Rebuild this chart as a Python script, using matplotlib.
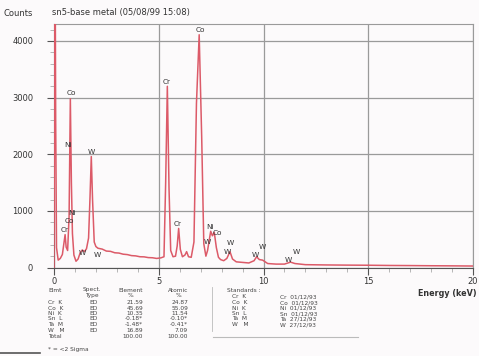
import numpy as np
import matplotlib
matplotlib.use("Agg")
import matplotlib.pyplot as plt
from matplotlib.ticker import MultipleLocator

# EDS spectrum, read point by point (energy in keV, counts)
energy_kev = [0.00, 0.02, 0.05, 0.08, 0.12, 0.20, 0.30, 0.40, 0.47, 0.53, 0.58,
              0.65, 0.72, 0.78, 0.83, 0.88, 0.95, 1.05, 1.15, 1.25, 1.35, 1.45,
              1.55, 1.65, 1.72, 1.78, 1.84, 1.92, 2.00, 2.10, 2.30, 2.50, 2.70,
              2.90, 3.10, 3.30, 3.50, 3.70, 3.90, 4.10, 4.30, 4.50, 4.70, 4.90,
              5.10, 5.25, 5.33, 5.41, 5.49, 5.57, 5.68, 5.80, 5.88, 5.95, 6.03,
              6.13, 6.25, 6.33, 6.42, 6.55, 6.68, 6.80, 6.93, 7.05, 7.15, 7.25,
              7.33, 7.40, 7.48, 7.56, 7.65, 7.75, 7.85, 7.95, 8.10, 8.25, 8.40,
              8.52, 8.70, 9.00, 9.30, 9.55, 9.67, 9.80, 9.96, 10.2, 10.6, 11.0,
              11.29, 11.5, 12.0, 13.0, 14.0, 15.0, 16.0, 17.0, 18.0, 19.0, 20.0]
counts = [0, 2600, 6000, 2600, 350, 130, 160, 230, 420, 580, 360,
          300, 900, 2980, 1500, 600, 220, 110, 150, 260, 310, 280,
          330, 520, 1250, 1960, 1200, 450, 370, 340, 325, 290, 285,
          260, 255, 235, 228, 210, 205, 190, 188, 175, 172, 160,
          170, 190, 1500, 3200, 1400, 300, 190, 200, 380, 690, 320,
          190, 220, 280, 190, 180, 450, 2900, 4110, 2300, 420, 200,
          300, 460, 640, 560, 620, 350, 180, 140, 120, 160, 280,
          150, 100, 90, 80, 120, 190, 140, 130, 70, 60, 60,
          95, 70, 50, 45, 42, 40, 36, 34, 31, 29, 26]

# peak identifications: (symbol, energy, counts) of each label
peak_labels = [("Co", 0.84, 3090), ("Ni", 0.67, 2160), ("W", 1.80, 2040),
               ("Ni", 0.86, 970), ("Co", 0.72, 820), ("Cr", 0.53, 670),
               ("W", 1.37, 260), ("W", 2.07, 225),
               ("Cr", 5.38, 3280), ("Co", 6.97, 4190), ("Cr", 5.92, 760),
               ("Ni", 7.45, 720), ("Co", 7.82, 610), ("W", 7.30, 450),
               ("W", 8.40, 440), ("W", 8.27, 280), ("W", 9.61, 225),
               ("W", 9.96, 370), ("W", 11.17, 135), ("W", 11.58, 265)]

# quantification results below the spectrum
elements = ["Cr  K", "Co  K", "Ni  K", "Sn  L", "Ta  M", "W   M"]
spect_type = ["ED", "ED", "ED", "ED", "ED", "ED"]
element_pct = ["21.59", "45.69", "10.35", "-0.18*", "-1.48*", "16.89"]
atomic_pct = ["24.87", "55.09", "11.54", "-0.10*", "-0.41*", "7.09"]
standards = ["Cr  01/12/93", "Co  01/12/93", "Ni  01/12/93",
             "Sn  01/12/93", "Ta  27/12/93", "W  27/12/93"]

W, H = 479, 356
fig = plt.figure(figsize=(W / 100, H / 100), dpi=100, facecolor="#fcfafb")
ax = fig.add_axes([54 / W, 1 - 267.5 / H, (473 - 54) / W, (267.5 - 24) / H])
ax.set_facecolor("#fcfafb")

ax.plot(energy_kev, counts, color="#dc5a68", lw=1.1, zorder=3)
ax.set_xlim(0, 20)
ax.set_ylim(0, 4300)

ax.xaxis.set_major_locator(MultipleLocator(5))
ax.xaxis.set_minor_locator(MultipleLocator(1))
ax.yaxis.set_major_locator(MultipleLocator(1000))
ax.yaxis.set_minor_locator(MultipleLocator(200))
ax.grid(True, which="major", color="#9a9a9a", lw=0.9)
ax.tick_params(axis="both", which="major", labelsize=6, colors="#555555",
               labelcolor="#333333", length=5, width=0.8, direction="out")
ax.tick_params(axis="both", which="minor", colors="#aaaaaa", length=3, width=0.6)
ax.tick_params(axis="y", pad=10)
ax.tick_params(axis="x", pad=1.5)
for s in ["top", "right"]:
    ax.spines[s].set_color("#9a9a9a")
for s in ["left", "bottom"]:
    ax.spines[s].set_color("#555555")

for sym, e, c in peak_labels:
    ax.text(e, c, sym, fontsize=5.3, color="#333333", ha="center", va="center",
            zorder=4)

fig.text(3 / W, 1 - 14 / H, "Counts", fontsize=6, color="#333333", va="center")
fig.text(52 / W, 1 - 12 / H, "sn5-base metal (05/08/99 15:08)", fontsize=6,
         color="#333333", va="center")
fig.text(477 / W, 1 - 293 / H, "Energy (keV)", fontsize=5.8, color="#333333",
         ha="right", va="center", fontweight="bold")

# results table
tk = dict(fontsize=4.2, color="#444444", va="center")
def put(x, y, s, ha="left"):
    fig.text(x / W, 1 - y / H, s, ha=ha, **tk)

put(48, 290, "Elmt")
put(92, 290, "Spect.", "center")
put(92, 295.5, "Type", "center")
put(131, 290, "Element", "center")
put(131, 295.5, "%", "center")
put(178, 290, "Atomic", "center")
put(178, 295.5, "%", "center")
row_y = [302, 308, 313.7, 319, 324.7, 330]
for i, y in enumerate(row_y):
    put(48, y, elements[i])
    put(93, y, spect_type[i], "center")
    put(143, y, element_pct[i], "right")
    put(188, y, atomic_pct[i], "right")
put(48, 336, "Total")
put(143, 336, "100.00", "right")
put(188, 336, "100.00", "right")

put(227, 291, "Standards :")
std_y = [297, 302.7, 308, 313.7, 319, 324.7]
for i, y in enumerate(std_y):
    put(232, y, elements[i])
    put(280, y, standards[i])

fig.add_artist(plt.Line2D([212 / W, 212 / W], [1 - 287 / H, 1 - 331 / H],
                          color="#bbbbbb", lw=0.6))
fig.add_artist(plt.Line2D([213 / W, 358 / W], [1 - 337 / H, 1 - 337 / H],
                          color="#bbbbbb", lw=0.8))
fig.add_artist(plt.Line2D([0, 40 / W], [1 - 353 / H, 1 - 353 / H],
                          color="#555555", lw=1.2))
put(48, 350, "* = <2 Sigma")

fig.savefig("out.png", dpi=100, facecolor=fig.get_facecolor())
